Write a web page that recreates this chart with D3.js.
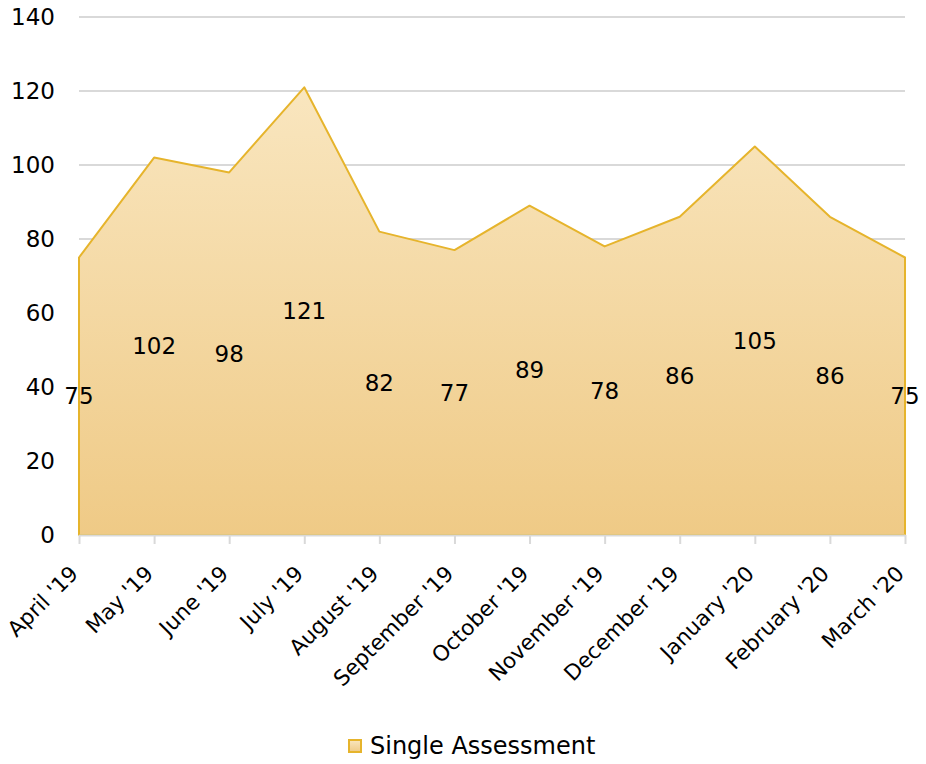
<!DOCTYPE html>
<html>
<head>
<meta charset="utf-8">
<script src="https://cdn.jsdelivr.net/npm/d3@7"></script>
<style>
  body { margin: 0; background: #fff; }
  text { font-family: "Century Gothic", "DejaVu Sans", sans-serif; fill: #000; }
</style>
</head>
<body>
<div id="wrapper"></div>
<script>
// data
const months = ["April '19", "May '19", "June '19", "July '19", "August '19", "September '19",
  "October '19", "November '19", "December '19", "January '20", "February '20", "March '20"]
const values = [75, 102, 98, 121, 82, 77, 89, 78, 86, 105, 86, 75]
const yTicks = [0, 20, 40, 60, 80, 100, 120, 140]
const seriesName = "Single Assessment"

const dim = {
  width: 926,
  height: 764,
  margin: { top: 17, right: 21, bottom: 229, left: 79 },
}
dim.bound_width = dim.width - dim.margin.left - dim.margin.right
dim.bound_height = dim.height - dim.margin.top - dim.margin.bottom

const svg = d3.select("#wrapper").append("svg")
  .attr("width", dim.width)
  .attr("height", dim.height)

const defs = svg.append("defs")
const grad = defs.append("linearGradient")
  .attr("id", "fillGrad").attr("x1", 0).attr("y1", 0).attr("x2", 0).attr("y2", 1)
grad.append("stop").attr("offset", "0%").attr("stop-color", "#f9e6bf")
grad.append("stop").attr("offset", "100%").attr("stop-color", "#efca86")

const chart = svg.append("g")
  .attr("transform", `translate(${dim.margin.left},${dim.margin.top})`)

const x = d3.scalePoint().domain(months).range([0, dim.bound_width])
const y = d3.scaleLinear().domain([0, 140]).range([dim.bound_height, 0])

// gridlines
chart.append("g").selectAll("line")
  .data(yTicks.filter(t => t > 0))
  .join("line")
  .attr("x1", 0).attr("x2", dim.bound_width)
  .attr("y1", d => y(d)).attr("y2", d => y(d))
  .attr("stroke", "#d9d9d9").attr("stroke-width", 2)

// area
const area = d3.area()
  .x((d, i) => x(months[i]))
  .y0(y(0))
  .y1(d => y(d))
chart.append("path")
  .datum(values)
  .attr("d", area)
  .attr("fill", "url(#fillGrad)")
  .attr("stroke", "#e6b42c")
  .attr("stroke-width", 2)
  .attr("stroke-linejoin", "round")

// x axis
const xAxis = chart.append("g")
  .attr("transform", `translate(0,${dim.bound_height})`)
  .call(d3.axisBottom(x).tickSize(9).tickSizeOuter(0))
xAxis.select(".domain").attr("stroke", "#d9d9d9").attr("stroke-width", 2)
xAxis.selectAll(".tick line").attr("stroke", "#d9d9d9").attr("stroke-width", 2)
xAxis.selectAll(".tick text")
  .attr("font-size", 21.5)
  .attr("text-anchor", "end")
  .attr("x", 0).attr("y", 0)
  .attr("dy", 0)
  .attr("transform", "translate(0,40) rotate(-45)")

// y axis labels
chart.append("g").selectAll("text")
  .data(yTicks)
  .join("text")
  .attr("x", -24)
  .attr("y", d => y(d))
  .attr("dy", "0.35em")
  .attr("text-anchor", "end")
  .attr("font-size", 23)
  .text(d => d)

// data labels at half height
chart.append("g").selectAll("text")
  .data(values)
  .join("text")
  .attr("x", (d, i) => x(months[i]))
  .attr("y", d => (y(d) + y(0)) / 2)
  .attr("dy", "0.35em")
  .attr("text-anchor", "middle")
  .attr("font-size", 23)
  .text(d => d)

// legend
const legend = svg.append("g").attr("transform", "translate(349,740)")
legend.append("rect")
  .attr("width", 12).attr("height", 12)
  .attr("fill", "url(#fillGrad)")
  .attr("stroke", "#e6b42c").attr("stroke-width", 2)
legend.append("text")
  .attr("x", 21).attr("y", 6)
  .attr("dy", "0.35em")
  .attr("font-size", 24)
  .text(seriesName)
</script>
</body>
</html>
